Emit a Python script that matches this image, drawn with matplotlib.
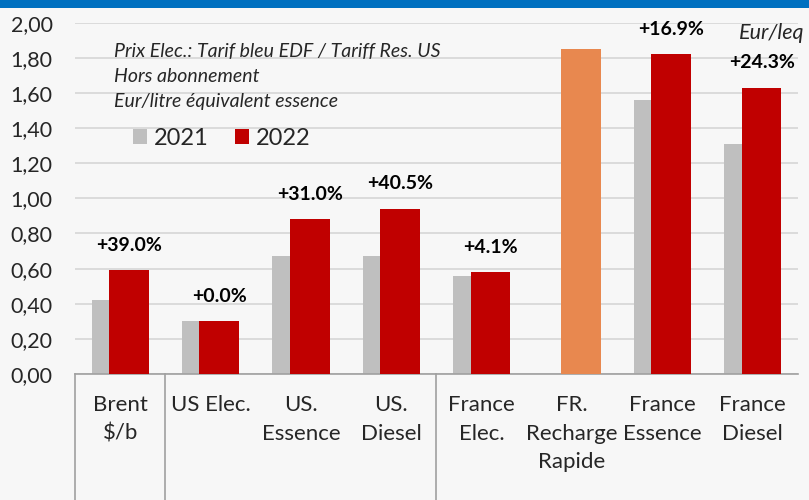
import matplotlib
matplotlib.use("Agg")
import matplotlib.pyplot as plt
import numpy as np
from matplotlib.patches import Rectangle
from matplotlib.ticker import FuncFormatter
import matplotlib.transforms as mtransforms

plt.rcParams["font.family"] = ["Lato", "DejaVu Sans"]

categories = ["Brent\n$/b", "US Elec.", "US.\nEssence", "US.\nDiesel",
              "France\nElec.", "FR.\nRecharge\nRapide", "France\nEssence", "France\nDiesel"]
v2021 = [0.42, 0.30, 0.67, 0.67, 0.56, np.nan, 1.56, 1.31]
v2022 = [0.59, 0.30, 0.88, 0.94, 0.58, np.nan, 1.82, 1.63]
recharge = [np.nan, np.nan, np.nan, np.nan, np.nan, 1.85, np.nan, np.nan]
pct_labels = ["+39.0%", "+0.0%", "+31.0%", "+40.5%", "+4.1%", "", "+16.9%", "+24.3%"]
group_edges = [-0.5, 0.5, 3.5]   # Brent | US | France

note_lines = ["Prix Elec.: Tarif bleu EDF / Tariff Res. US",
              "Hors abonnement",
              "Eur/litre équivalent essence"]

GRAY = "#BFBFBF"
RED = "#C00000"
ORANGE = "#E8884F"
BG = "#F7F7F7"

fig = plt.figure(figsize=(8.09, 5.0), dpi=100, facecolor=BG)
ax = fig.add_axes([75 / 809, 1 - 374 / 500, (798 - 75) / 809, (374 - 22.7) / 500])
ax.set_facecolor(BG)

x = np.arange(len(categories))
w = 0.44
off = 0.097
ax.bar(x - off, v2021, w, color=GRAY, label="2021", zorder=2)
ax.bar(x + off, v2022, w, color=RED, label="2022", zorder=3)
ax.bar(x + off, recharge, w, color=ORANGE, zorder=3)

for i, (v, s) in enumerate(zip(v2022, pct_labels)):
    if s:
        ax.annotate(s, (x[i] + off, v), xytext=(0, 18), textcoords="offset points",
                    ha="center", va="center", fontsize=14, fontweight="bold", color="black")

ax.set_xlim(-0.5, len(categories) - 0.5)
ax.set_ylim(0, 2.0)
ax.set_yticks(np.arange(0, 2.01, 0.2))
ax.yaxis.set_major_formatter(FuncFormatter(lambda v, _: f"{v:.2f}".replace(".", ",")))
ax.grid(True, axis="y", color="#D9D9D9", lw=1.3, zorder=0)
ax.set_axisbelow(True)
for sp in ["top", "right", "left"]:
    ax.spines[sp].set_visible(False)
ax.spines["bottom"].set_color("#A0A0A0")
ax.spines["bottom"].set_linewidth(1.2)
ax.tick_params(axis="y", length=0, pad=16, labelsize=15.5, labelcolor="#262626")
ax.tick_params(axis="x", length=0, pad=15)
ax.set_xticks(x)
ax.set_xticklabels(categories, fontsize=16, color="#262626", linespacing=1.55)

# group separators under the axis
trans = mtransforms.blended_transform_factory(ax.transData, ax.transAxes)
for e in group_edges:
    ax.plot([e, e], [0, -0.5], color="#A0A0A0", lw=1.2, transform=trans, clip_on=False)

# notes
for j, line in enumerate(note_lines):
    fig.text(114 / 809, 1 - (51.7 + 25 * j) / 500, line, fontsize=14, style="italic",
             color="#262626", ha="left", va="center")
fig.text(804 / 809, 1 - 33 / 500, "Eur/leq", fontsize=15.5, style="italic",
         color="#262626", ha="right", va="center")

leg = fig.legend(loc="center left", bbox_to_anchor=(133 / 809, 1 - 138.7 / 500), ncol=2,
                 frameon=False, fontsize=17, handlelength=0.6, handleheight=0.6,
                 handletextpad=0.3, columnspacing=1.1, borderaxespad=0, borderpad=0)
for t in leg.get_texts():
    t.set_color("#262626")

# header band
fig.patches.append(Rectangle((0, 1 - 8 / 500), 1, 8 / 500, transform=fig.transFigure,
                             facecolor="#0070C0", edgecolor="none", zorder=5))

fig.savefig("out.png", dpi=100, facecolor=BG)
